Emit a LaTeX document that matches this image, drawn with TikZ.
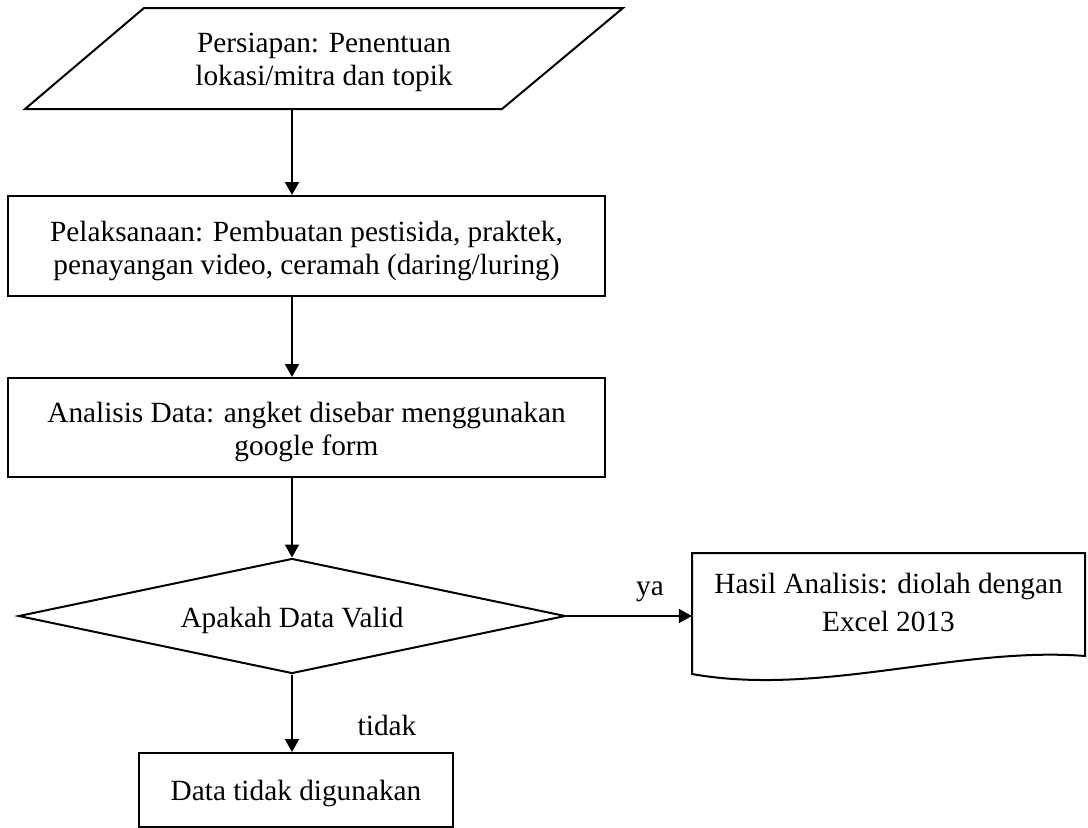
\documentclass[tikz,border=0pt]{standalone}
\usepackage{fontspec}
\setmainfont{Liberation Serif}
\usetikzlibrary{shapes.geometric,arrows.meta}
\tikzset{
  shp/.style={line width=2pt},
  boxnode/.style={draw, line width=2pt, rectangle, inner sep=0pt},
  anchornode/.style={rectangle, inner sep=0pt},
  txt/.style={align=center, inner sep=0pt, font=\fontsize{29.3}{33}\selectfont},
  arr/.style={line width=2pt, -{Triangle[length=13pt,width=14pt]}},
}
\begin{document}
\begin{tikzpicture}[x=1pt,y=-1pt]
\useasboundingbox[fill=white] (0,0) rectangle (1088,828);

% parallelogram
\node[anchornode, minimum width=478pt, minimum height=101pt] (p1) at (323.5,58.5) {};
\draw[shp, line join=miter] (144,8) -- (623,8) -- (502,109) -- (25,109) -- cycle;
\node[txt] (t1) at (324,62.5) {Persiapan: Penentuan\\lokasi/mitra dan topik};

% box 2
\node[boxnode, minimum width=597pt, minimum height=100pt] (b2) at (306.5,246) {};
\node[txt] (t2) at (306.5,250.5) {Pelaksanaan: Pembuatan pestisida, praktek,\\penayangan video, ceramah (daring/luring)};

% box 3
\node[boxnode, minimum width=597pt, minimum height=99pt] (b3) at (306.5,427.5) {};
\node[txt] (t3) at (306.5,432.4) {Analisis Data: angket disebar menggunakan\\google form};

% decision
\node[diamond, draw, line width=2pt, inner sep=0pt, minimum width=547pt, minimum height=115pt] (d4) at (292,616) {};
\node[txt, anchor=base] (t4) at (292,627) {Apakah Data Valid};

% document shape
\node[anchornode, minimum width=393pt, minimum height=126pt] (doc) at (888.5,616) {};
\draw[shp, line join=miter] (692,553) -- (1085,553) -- (1085,656)
  .. controls (960,646) and (820,697) .. (692,674) -- cycle;
\node[txt, font=\fontsize{29.3}{38}\selectfont] (t5) at (888.5,602) {Hasil Analisis: diolah dengan\\Excel 2013};

% bottom box
\node[boxnode, minimum width=314pt, minimum height=74pt] (b6) at (296,790) {};
\node[txt, anchor=base] (t6) at (296,800.5) {Data tidak digunakan};

% connectors
\draw[arr] (p1.south -| d4.north) -- (b2.north -| d4.north);
\draw[arr] (b2.south -| d4.north) -- (b3.north -| d4.north);
\draw[arr] (b3.south -| d4.north) -- (d4.north);
\draw[arr] (d4.east) -- (doc.west);
\draw[arr] (d4.south) -- (b6.north -| d4.south);

% labels
\node[txt, anchor=base] (ya) at (650,595) {ya};
\node[txt, anchor=base] (tidak) at (387,735) {tidak};
\end{tikzpicture}
\end{document}
